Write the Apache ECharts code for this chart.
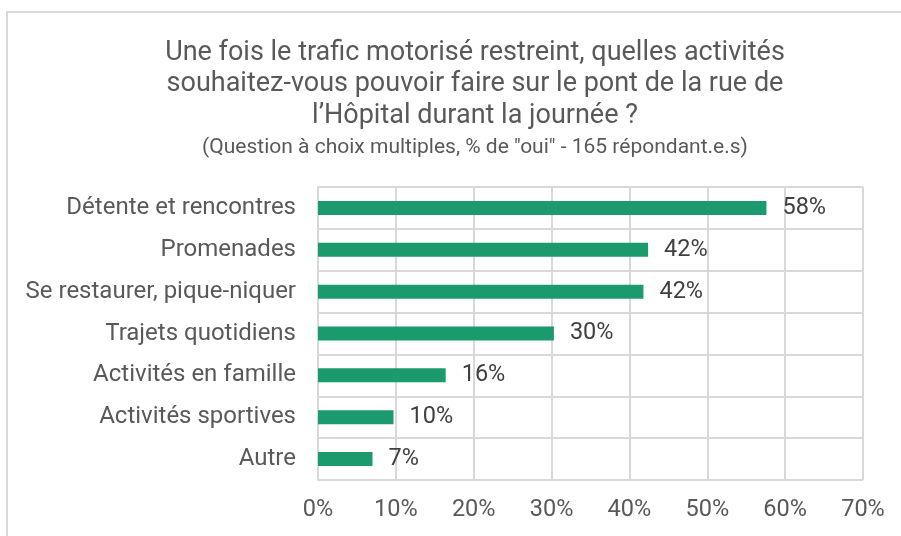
<!DOCTYPE html>
<html>
<head>
<meta charset="utf-8">
<script src="https://cdn.jsdelivr.net/npm/echarts@6/dist/echarts.min.js"></script>
<style>
  html, body { margin: 0; padding: 0; background: #fff; }
  #chart { width: 901px; height: 536px; }
</style>
</head>
<body>
<div id="chart"></div>
<script>
// données (en %)
const categories = [
  'Détente et rencontres',
  'Promenades',
  'Se restaurer, pique-niquer',
  'Trajets quotidiens',
  'Activités en famille',
  'Activités sportives',
  'Autre'
]
const values = [57.6, 42.4, 41.8, 30.3, 16.4, 9.7, 7.0]
const xTicks = [0, 10, 20, 30, 40, 50, 60, 70]

const titleText = 'Une fois le trafic motorisé restreint, quelles activités\nsouhaitez-vous pouvoir faire sur le pont de la rue de\nl’Hôpital durant la journée ?'
const subText = '(Question à choix multiples, % de "oui" - 165 répondant.e.s)'

const gridColor = '#d9d9d9'
const font = 'Roboto'

const chart = echarts.init(document.getElementById('chart'))

chart.setOption({
  animation: false,
  backgroundColor: '#fff',
  textStyle: { fontFamily: font },
  title: {
    text: titleText,
    subtext: subText,
    left: 470,
    top: 32,
    textAlign: 'center',
    itemGap: 4,
    textStyle: {
      fontFamily: font,
      fontWeight: 'normal',
      fontSize: 27,
      lineHeight: 31.5,
      color: '#595959'
    },
    subtextStyle: {
      fontFamily: font,
      fontSize: 21,
      lineHeight: 25,
      color: '#595959'
    }
  },
  graphic: [{
    type: 'rect',
    z: -10,
    shape: { x: 7, y: 12, width: 1000, height: 1000 },
    style: { fill: 'none', stroke: gridColor, lineWidth: 2 }
  }],
  grid: { left: 318, right: 38, top: 187, bottom: 56 },
  xAxis: {
    type: 'value',
    min: xTicks[0],
    max: xTicks[xTicks.length - 1],
    interval: 10,
    axisLine: { show: false },
    axisTick: { show: false },
    axisLabel: {
      formatter: '{value}%',
      fontFamily: font,
      fontSize: 23.5,
      color: '#595959',
      margin: 18
    },
    splitLine: { show: true, lineStyle: { color: gridColor, width: 2 } }
  },
  yAxis: {
    type: 'category',
    inverse: true,
    data: categories,
    axisLine: { show: true, lineStyle: { color: gridColor, width: 2 } },
    axisTick: { show: false },
    axisLabel: {
      fontFamily: font,
      fontSize: 24,
      color: '#595959',
      margin: 22
    },
    splitLine: { show: true, lineStyle: { color: gridColor, width: 2 } }
  },
  series: [{
    type: 'bar',
    data: values,
    barWidth: 14,
    itemStyle: { color: '#1b9a6e' },
    label: {
      show: true,
      position: 'right',
      distance: 16,
      formatter: p => Math.round(p.value) + '%',
      fontFamily: font,
      fontSize: 23.5,
      color: '#404040'
    }
  }]
})
</script>
</body>
</html>
